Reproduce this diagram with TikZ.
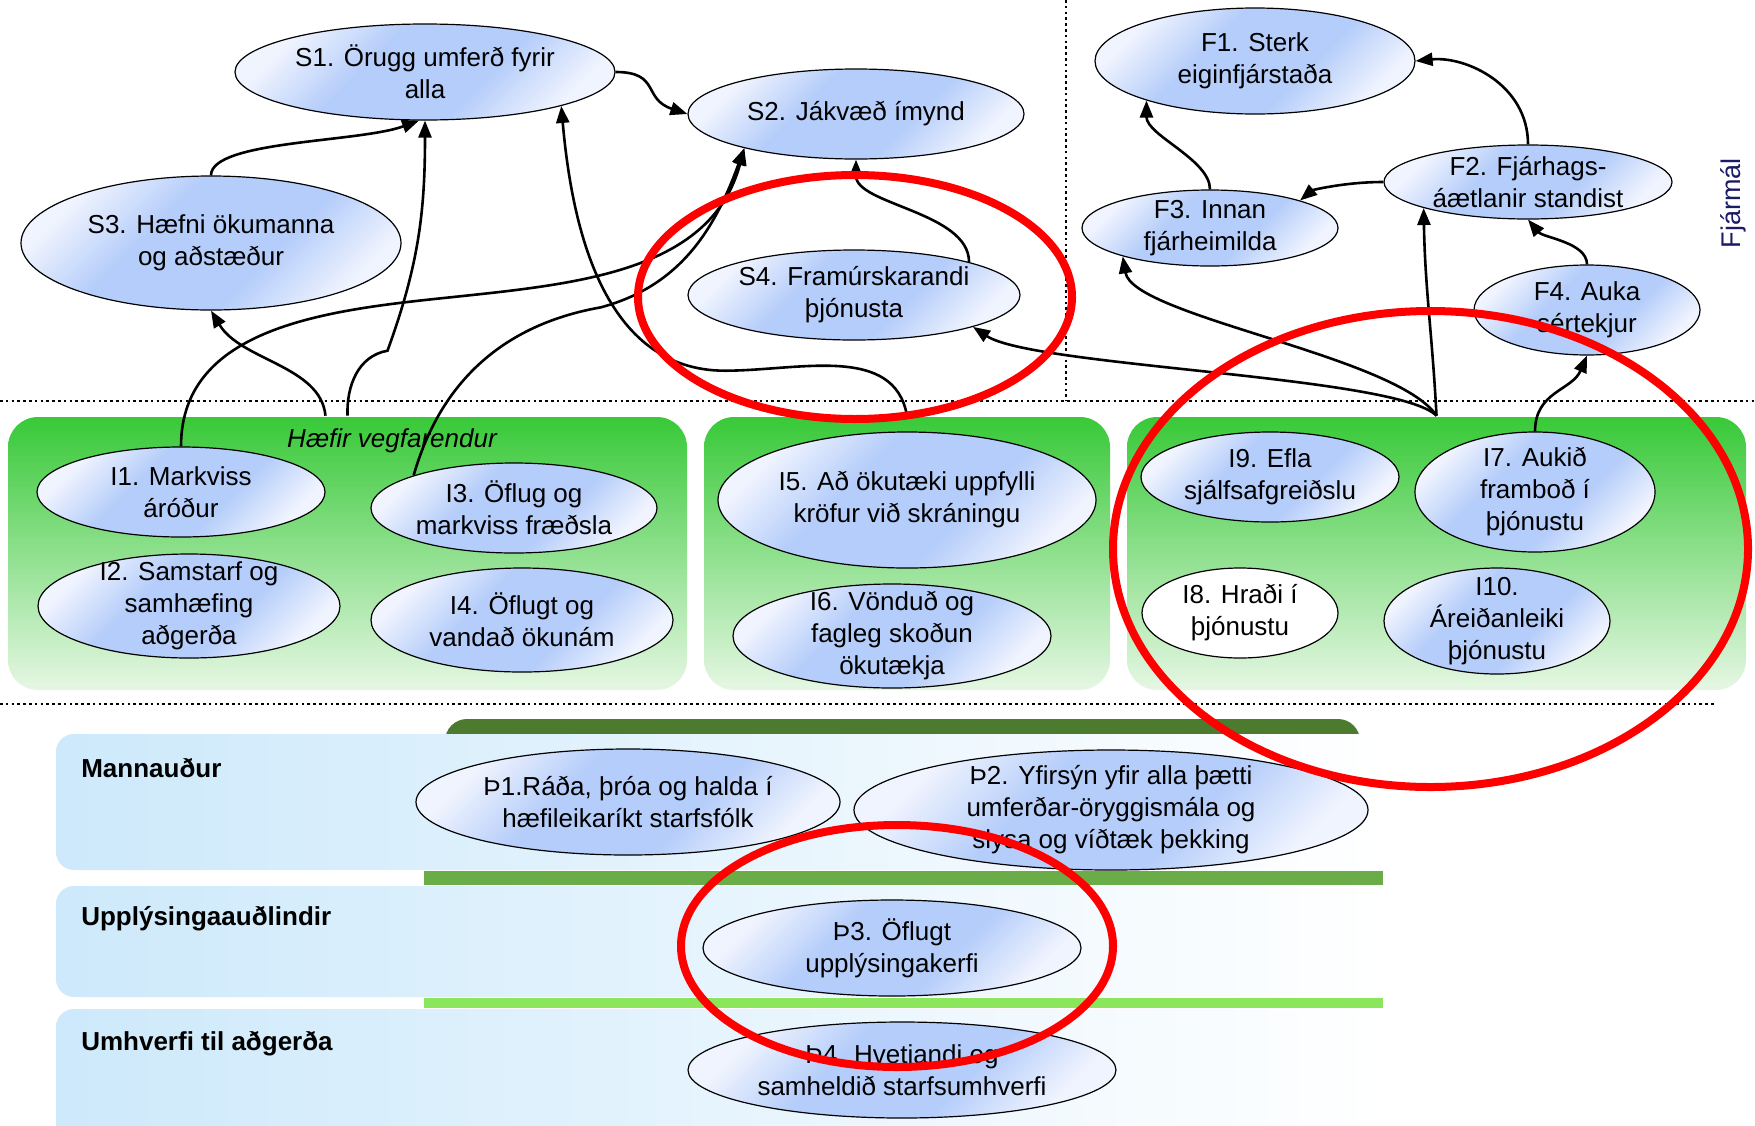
\documentclass[tikz,border=0pt]{standalone}
\usepackage{fontspec}
\setmainfont{Liberation Sans}
\usetikzlibrary{shapes.geometric,arrows.meta}
\definecolor{ellblue}{HTML}{B5CDFA}
\definecolor{elllight}{HTML}{F0F4FE}
\definecolor{pantop}{HTML}{38C938}
\definecolor{panbot}{HTML}{E6F7E4}
\definecolor{bandblue}{HTML}{CDE9FB}
\definecolor{bardark}{HTML}{4C7A2F}
\definecolor{barmid}{HTML}{6AAC47}
\definecolor{barlight}{HTML}{8CE65B}
\definecolor{navytext}{HTML}{1A1A66}
\pgfdeclareverticalshading{ellshade}{100bp}{color(0bp)=(elllight); color(25bp)=(elllight);
  color(40bp)=(ellblue); color(60bp)=(ellblue); color(75bp)=(elllight); color(100bp)=(elllight)}

\begin{document}
\begin{tikzpicture}[x=1pt, y=1pt, line width=2.6pt, >={Triangle[length=17pt,width=13pt]},
    font=\fontsize{26}{32}\selectfont,
    plain goal/.style={ellipse, draw, line width=1.2pt, inner sep=-30pt, align=center},
    goal/.style={plain goal, shading=ellshade, shading angle=45},
    panel/.style={rectangle, rounded corners=30pt, inner sep=0pt, top color=pantop, bottom color=panbot},
    band/.style={rounded corners=18pt, left color=bandblue, right color=white},
    lane/.style={anchor=base west, inner sep=0pt, font=\fontsize{26}{32}\selectfont\bfseries},
    divider/.style={dash pattern=on 2.6pt off 3.2pt},
    redring/.style={draw=red, line width=8pt}]
  \useasboundingbox (0,0) rectangle (1755,-1125);
  \draw[divider] (0,-401) -- (1755,-401);
  \draw[divider] (1066,0) -- (1066,-401);
  \draw[divider] (0,-704) -- (1716,-704);

  \fill[bardark, rounded corners=22pt] (445,-719) rectangle (1360,-790);
  \path[band] (56,-734) rectangle (1388,-870);
  \path[band] (56,-886) rectangle (1388,-997);
  \path[band] (56,-1009) rectangle (1388,-1160);
  \fill[barmid] (424,-871) rectangle (1383,-885);
  \fill[barlight] (424,-998) rectangle (1383,-1008);

  \node[panel, minimum width=679, minimum height=273] (pan1) at (347.5,-553.5) {};
  \node[panel, minimum width=406, minimum height=273] (pan2) at (907,-553.5) {};
  \node[panel, minimum width=619, minimum height=273] (pan3) at (1436.5,-553.5) {};

  \node[anchor=base, font=\fontsize{26}{32}\selectfont\itshape] (hv) at (392,-447) {Hæfir vegfarendur};
  \node[lane] (man) at (80,-777) {Mannauður};
  \node[lane] (upp) at (80,-925) {Upplýsingaauðlindir};
  \node[lane] (umh) at (80,-1050) {Umhverfi til aðgerða};
  \node[rotate=90, text=navytext, font=\fontsize{27}{32}\selectfont] (fj) at (1733,-203) {Fjármál};

  \node[goal, minimum width=380, minimum height=96] (S1) at (425,-72) {S1. Örugg umferð fyrir\\alla};
  \node[goal, minimum width=336, minimum height=90] (S2) at (856,-114) {S2. Jákvæð ímynd};
  \node[goal, minimum width=380, minimum height=134] (S3) at (211,-243) {S3. Hæfni ökumanna\\og aðstæður};
  \node[goal, minimum width=332, minimum height=90] (S4) at (854,-295) {S4. Framúrskarandi\\þjónusta};
  \node[goal, minimum width=320, minimum height=106] (F1) at (1255,-61) {F1. Sterk\\eiginfjárstaða};
  \node[goal, minimum width=288, minimum height=74] (F2) at (1528,-182) {F2. Fjárhags-\\áætlanir standist};
  \node[goal, minimum width=256, minimum height=76] (F3) at (1210,-228) {F3. Innan\\fjárheimilda};
  \node[goal, minimum width=226, minimum height=90] (F4) at (1587,-310) {F4. Auka\\sértekjur};

  \node[goal, minimum width=288, minimum height=90] (I1) at (181,-492) {I1. Markviss\\áróður};
  \node[goal, minimum width=302, minimum height=104] (I2) at (189,-606) {I2. Samstarf og\\samhæfing\\aðgerða};
  \node[goal, minimum width=286, minimum height=90] (I3) at (514,-508) {I3. Öflug og\\markviss fræðsla};
  \node[goal, minimum width=302, minimum height=104] (I4) at (522,-620) {I4. Öflugt og\\vandað ökunám};
  \node[goal, minimum width=378, minimum height=136] (I5) at (907,-500) {I5. Að ökutæki uppfylli\\kröfur við skráningu};
  \node[goal, minimum width=318, minimum height=104] (I6) at (892,-636) {I6. Vönduð og\\fagleg skoðun\\ökutækja};
  \node[goal, minimum width=240, minimum height=120] (I7) at (1535,-492) {I7. Aukið\\framboð í\\þjónustu};
  \node[plain goal, fill=white, minimum width=196, minimum height=90] (I8) at (1240,-613) {I8. Hraði í\\þjónustu};
  \node[goal, minimum width=258, minimum height=90] (I9) at (1270,-477) {I9. Efla\\sjálfsafgreiðslu};
  \node[goal, minimum width=226, minimum height=106] (I10) at (1497,-621) {I10.\\Áreiðanleiki\\þjónustu};

  \node[goal, minimum width=424, minimum height=106] (P1) at (628,-802) {Þ1.Ráða, þróa og halda í\\hæfileikaríkt starfsfólk};
  \node[goal, minimum width=514, minimum height=120] (P2) at (1111,-810) {Þ2. Yfirsýn yfir alla þætti\\umferðar-öryggismála og\\slysa og víðtæk þekking};
  \node[goal, minimum width=378, minimum height=96] (P3) at (892,-948) {Þ3. Öflugt\\upplýsingakerfi};
  \node[goal, minimum width=428, minimum height=96] (P4) at (902,-1070) {Þ4. Hvetjandi og\\samheldið starfsumhverfi};

  \draw[->] (S1.east) .. controls +(45,0) and +(-45,15) .. (S2.west);
  \draw[->] (S3.north) .. controls +(0,35) and +(-60,-22) .. (S1.-97);
  \draw[->] ([xshift=-22pt]pan1.north) .. controls +(-5,50) and +(30,-50) .. (S3.south);
  \draw[->] (pan1.north) to[out=92,in=190] ++(40,65) to[out=70,in=-90] (S1.south);
  \draw[->] (I1.north) to[out=90,in=186] ++(278,150) to[out=6,in=-105] (S2.197);
  \draw[->] (I3.162) to[out=74,in=190] ++(187,168) to[out=15,in=-110] (S2.197);
  \draw[->] (pan2.north) to[out=100,in=0] ++(-182,45) to[out=180,in=-85] (S1.-14);
  \draw[->] (S4.16) .. controls +(0,50) and +(0,-45) .. (S2.south);
  \draw[->] (pan3.north) .. controls +(-40,40) and +(60,-40) .. (S4.-15);
  \draw[->] (pan3.north) .. controls +(-40,60) and +(10,-60) .. (F3.198);
  \draw[->] (pan3.north) to[out=93,in=-89] (F2.194);
  \draw[->] (I7.north) .. controls +(0,40) and +(-15,-35) .. (F4.south);
  \draw[->] (F4.north) .. controls +(0,22) and +(15,-18) .. (F2.south);
  \draw[->] (F2.west) .. controls +(-40,0) and +(12,10) .. (F3.17);
  \draw[->] (F2.north) .. controls +(0,60) and +(50,5) .. (F1.east);
  \draw[->] (F3.north) .. controls +(0,30) and +(0,-35) .. (F1.200);

  \draw[redring] (855,-297) ellipse [x radius=217, y radius=122];
  \draw[redring] (1430.5,-549) ellipse [x radius=317.5, y radius=238];
  \draw[redring] (897,-946) ellipse [x radius=216, y radius=121];
\end{tikzpicture}
\end{document}
